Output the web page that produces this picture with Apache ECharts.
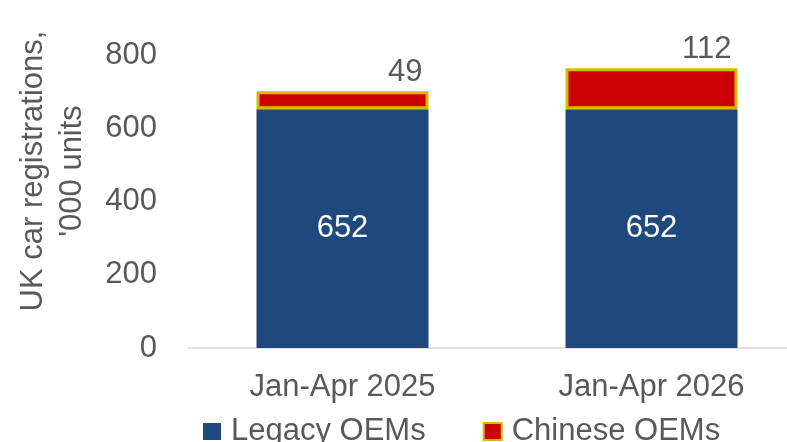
<!DOCTYPE html>
<html>
<head>
<meta charset="utf-8">
<script src="https://cdn.jsdelivr.net/npm/echarts@6/dist/echarts.min.js"></script>
<style>
  html, body { margin: 0; padding: 0; background: #fff; }
  #chart { width: 787px; height: 442px; }
</style>
</head>
<body>
<div id="chart"></div>
<script>
const categories = ['Jan-Apr 2025', 'Jan-Apr 2026'];
const legacyOEMs = [652, 652];
const chineseOEMs = [49, 112];
const yTicks = [0, 200, 400, 600, 800];

const textGrey = '#595959';
const font = 'Liberation Sans, Arial, sans-serif';

const chart = echarts.init(document.getElementById('chart'));

const option = {
    animation: false,
    textStyle: { fontFamily: font, color: textGrey },
    grid: {
        left: 188,
        top: 55,
        width: 618,
        bottom: 94,
        containLabel: false,
        outerBoundsMode: 'none',
    },
    legend: {
        left: 203,
        top: 416,
        padding: 0,
        icon: 'rect',
        itemWidth: 18,
        itemHeight: 17,
        itemGap: 57,
        textStyle: { fontSize: 31, color: textGrey, fontFamily: font, padding: [0, 0, 0, 5] },
        data: ['Legacy OEMs', 'Chinese OEMs'],
    },
    xAxis: {
        type: 'category',
        data: categories,
        axisLine: { lineStyle: { color: '#D9D9D9', width: 1.5 } },
        axisTick: { show: false },
        axisLabel: { fontSize: 31, color: textGrey, margin: 24 },
    },
    yAxis: {
        type: 'value',
        min: yTicks[0],
        max: yTicks[yTicks.length - 1],
        interval: 200,
        splitLine: { show: false },
        axisLine: { show: false },
        axisTick: { show: false },
        axisLabel: { fontSize: 31, color: textGrey, margin: 31 },
    },
    graphic: [
        {
            type: 'text',
            x: 53,
            y: 171,
            rotation: Math.PI / 2,
            style: {
                text: "UK car registrations,\n'000 units",
                font: '31px ' + font,
                fill: textGrey,
                align: 'center',
                verticalAlign: 'middle',
                lineHeight: 39,
            },
        },
    ],
    series: [
        {
            name: 'Legacy OEMs',
            type: 'bar',
            stack: 'total',
            barWidth: 172,
            data: legacyOEMs,
            itemStyle: { color: '#1F497D' },
            label: {
                show: true,
                position: 'inside',
                color: '#fff',
                fontSize: 31,
                fontFamily: font,
            },
        },
        {
            name: 'Chinese OEMs',
            type: 'bar',
            stack: 'total',
            barWidth: 172,
            data: chineseOEMs,
            itemStyle: { color: '#CC0000', borderColor: '#D9B800', borderWidth: 3 },
            label: {
                show: true,
                position: 'top',
                align: 'right',
                offset: [80, 0],
                distance: 3,
                color: textGrey,
                fontSize: 31,
                fontFamily: font,
            },
        },
    ],
};

chart.setOption(option);
</script>
</body>
</html>
